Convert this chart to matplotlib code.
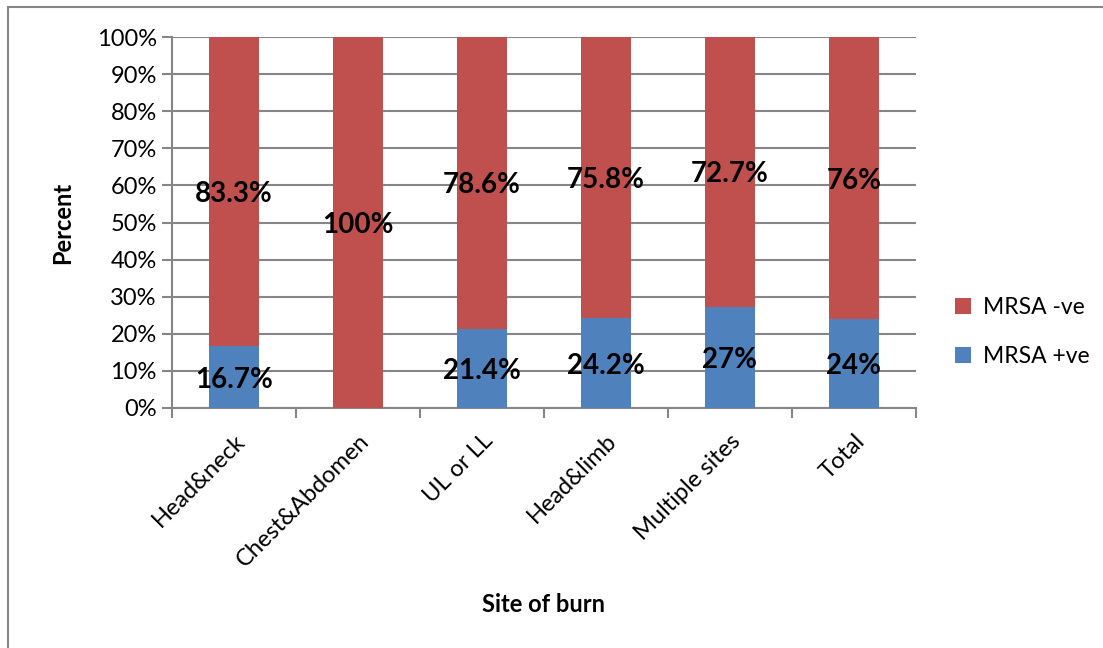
import matplotlib
matplotlib.use("Agg")
from matplotlib import pyplot as plt
from matplotlib.patches import Rectangle
import numpy as np

plt.rcParams['font.family'] = ['Lato', 'DejaVu Sans']

sites = ['Head&neck', 'Chest&Abdomen', 'UL or LL', 'Head&limb', 'Multiple sites', 'Total']
mrsa_pos = [16.7, 0, 21.4, 24.2, 27.3, 24]
mrsa_neg = [83.3, 100, 78.6, 75.8, 72.7, 76]
pos_labels = ['16.7%', '', '21.4%', '24.2%', '27%', '24%']
neg_labels = ['83.3%', '100%', '78.6%', '75.8%', '72.7%', '76%']

blue = '#4F81BD'
red = '#C0504D'
grid_col = '#868686'

fig = plt.figure(figsize=(11.03, 6.48), dpi=100)
fig.patches.append(Rectangle((8 / 1103, -0.1), 1.2, 1 - 7 / 648 + 0.1,
                             transform=fig.transFigure, fill=False,
                             edgecolor=grid_col, linewidth=1.5))
ax = fig.add_axes([172 / 1103, 1 - 408 / 648, (916 - 172) / 1103, (408 - 37) / 648])

x = np.arange(len(sites))
ax.bar(x, mrsa_pos, width=0.4, color=blue, label='MRSA +ve', zorder=3)
ax.bar(x, mrsa_neg, width=0.4, bottom=mrsa_pos, color=red, label='MRSA -ve', zorder=3)

for i in range(len(sites)):
    if pos_labels[i]:
        ax.text(x[i], mrsa_pos[i] / 2 - 0.7, pos_labels[i], ha='center', va='center',
                fontsize=20, fontweight='bold', zorder=4)
    ax.text(x[i], mrsa_pos[i] + mrsa_neg[i] / 2 - 0.7, neg_labels[i], ha='center', va='center',
            fontsize=20, fontweight='bold', zorder=4)

ax.set_xlim(-0.5, len(sites) - 0.5)
ax.set_ylim(0, 100)
ax.set_yticks(range(0, 101, 10))
ax.set_yticklabels([f'{v}%' for v in range(0, 101, 10)], fontsize=17)
ax.yaxis.grid(True, color=grid_col, linewidth=1.5, zorder=0)
ax.set_xticks(x)
ax.set_xticklabels(sites, rotation=45, ha='right', rotation_mode='anchor', fontsize=17)
ax.tick_params(axis='x', length=0, pad=16)
ax.set_xticks(np.arange(-0.5, len(sites)), minor=True)
ax.tick_params(axis='x', which='minor', length=7, width=1.5, color=grid_col)
ax.tick_params(axis='y', length=7, width=1.5, color=grid_col, pad=4)

for s in ['top', 'right']:
    ax.spines[s].set_visible(False)
for s in ['left', 'bottom']:
    ax.spines[s].set_color(grid_col)
    ax.spines[s].set_linewidth(1.5)

ax.set_ylabel('Percent', fontsize=17, fontweight='bold', labelpad=16)
fig.text(544 / 1103, 1 - 605 / 648, 'Site of burn', ha='center', va='center',
         fontsize=17, fontweight='bold')

handles, labels = ax.get_legend_handles_labels()
leg = ax.legend(handles[::-1], labels[::-1], loc='center left', bbox_to_anchor=(1.025, 0.205),
                frameon=False, fontsize=16.5, handlelength=0.7, handleheight=0.7,
                labelspacing=1.25, handletextpad=0.5)

fig.savefig('out.png', dpi=100)
